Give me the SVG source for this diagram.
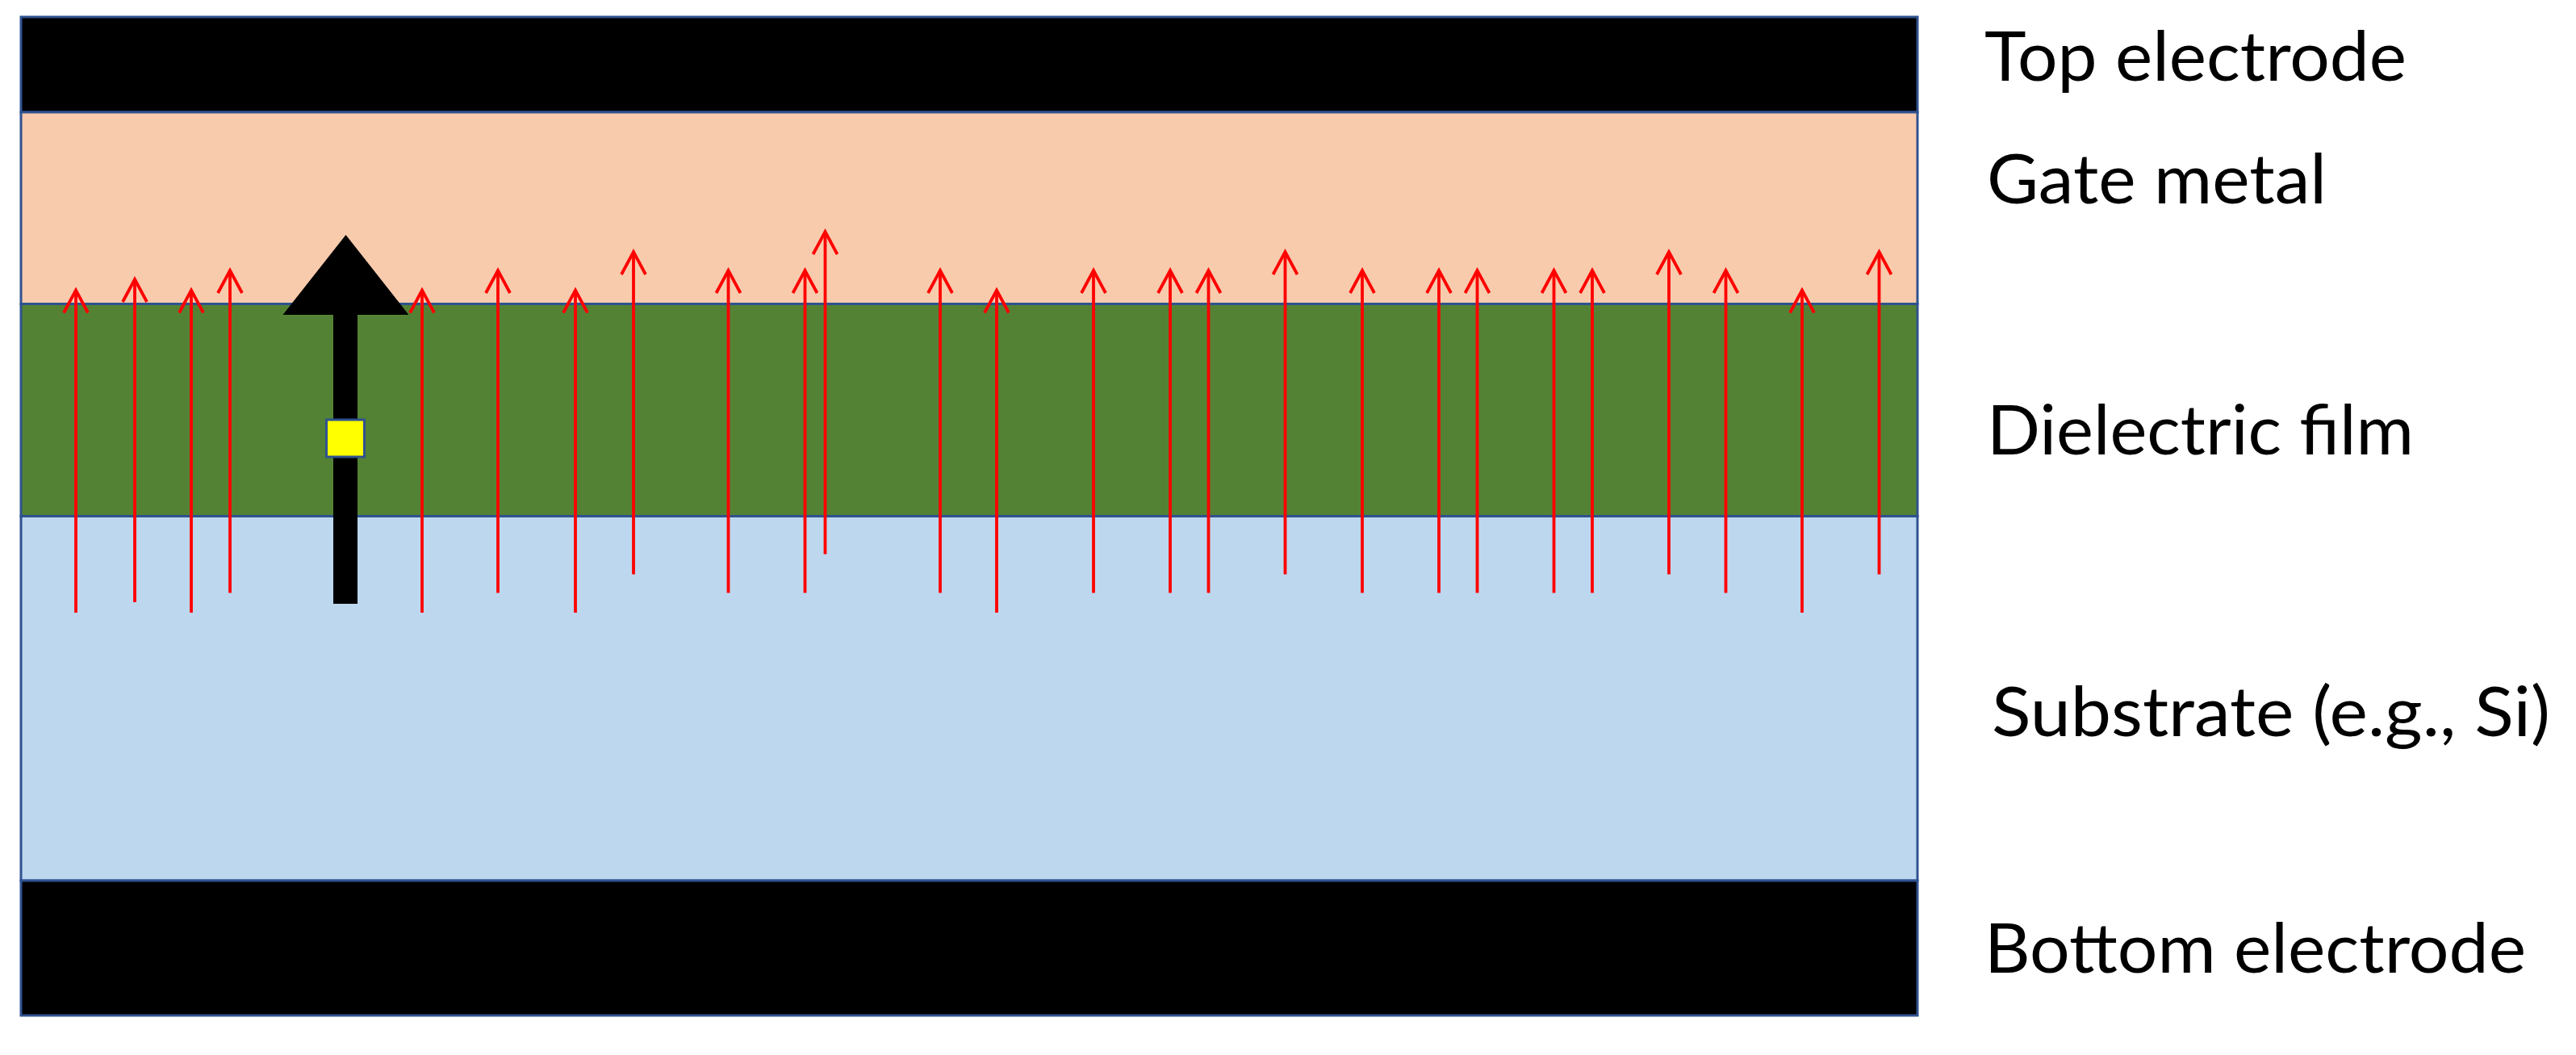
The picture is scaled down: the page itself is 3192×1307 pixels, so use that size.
<svg xmlns="http://www.w3.org/2000/svg" width="3192" height="1307" viewBox="0 0 3192 1307">
<style>
.layer{stroke:#2F528F;stroke-width:3}
.label{font-family:"Lato","Open Sans","Liberation Sans",sans-serif;font-size:85px;fill:#000}
.flux{stroke:#FF0000;stroke-width:3.8;fill:none;marker-end:url(#open)}
</style>
<defs>
<marker id="open" markerUnits="userSpaceOnUse" markerWidth="40" markerHeight="40" refX="0" refY="0" orient="auto" overflow="visible">
<path d="M-28,-15 L0,0 L-28,15" fill="none" stroke="#FF0000" stroke-width="3.8"/>
</marker>
</defs>
<rect width="3192" height="1307" fill="#FFFFFF"/>
<g id="top-electrode"><rect class="layer" x="26" y="21" width="2350" height="118" fill="#000000"/><text class="label" x="2459" y="100" textLength="523" lengthAdjust="spacingAndGlyphs">Top electrode</text></g>
<g id="gate-metal"><rect class="layer" x="26" y="139" width="2350" height="237.500" fill="#F8CBAD"/><text class="label" x="2462" y="252" textLength="421" lengthAdjust="spacingAndGlyphs">Gate metal</text></g>
<g id="dielectric-film"><rect class="layer" x="26" y="376.500" width="2350" height="263" fill="#548235"/><text class="label" x="2462" y="563" textLength="529" lengthAdjust="spacingAndGlyphs">Dielectric film</text></g>
<g id="substrate"><rect class="layer" x="26" y="639.500" width="2350" height="451.500" fill="#BDD7EE"/><text class="label" x="2468" y="912" textLength="692" lengthAdjust="spacingAndGlyphs">Substrate (e.g., Si)</text></g>
<g id="bottom-electrode"><rect class="layer" x="26" y="1091" width="2350" height="167" fill="#000000"/><text class="label" x="2459" y="1205" textLength="671" lengthAdjust="spacingAndGlyphs">Bottom electrode</text></g>
<g id="big-arrow"><polygon points="428.500,291 506.500,390 443,390 443,748 413,748 413,390 350.500,390" fill="#000000"/></g>
<g id="dipole"><rect x="404.500" y="520" width="47" height="46" fill="#FFFF00" stroke="#2F528F" stroke-width="3"/></g>
<g id="connectors">
<line class="flux" x1="94" y1="759" x2="94" y2="359.500"/>
<line class="flux" x1="167" y1="746" x2="167" y2="346"/>
<line class="flux" x1="237" y1="759" x2="237" y2="359.500"/>
<line class="flux" x1="285" y1="734.500" x2="285" y2="335"/>
<line class="flux" x1="523" y1="759" x2="523" y2="359.500"/>
<line class="flux" x1="617" y1="734.500" x2="617" y2="335"/>
<line class="flux" x1="713" y1="759" x2="713" y2="359.500"/>
<line class="flux" x1="785" y1="711.500" x2="785" y2="312"/>
<line class="flux" x1="902.500" y1="734.500" x2="902.500" y2="335"/>
<line class="flux" x1="997.500" y1="734.500" x2="997.500" y2="335"/>
<line class="flux" x1="1022.500" y1="686.500" x2="1022.500" y2="287"/>
<line class="flux" x1="1165" y1="734.500" x2="1165" y2="335"/>
<line class="flux" x1="1235" y1="759" x2="1235" y2="359.500"/>
<line class="flux" x1="1355" y1="734.500" x2="1355" y2="335"/>
<line class="flux" x1="1450" y1="734.500" x2="1450" y2="335"/>
<line class="flux" x1="1497.500" y1="734.500" x2="1497.500" y2="335"/>
<line class="flux" x1="1592.500" y1="711.500" x2="1592.500" y2="312"/>
<line class="flux" x1="1688" y1="734.500" x2="1688" y2="335"/>
<line class="flux" x1="1783" y1="734.500" x2="1783" y2="335"/>
<line class="flux" x1="1830.500" y1="734.500" x2="1830.500" y2="335"/>
<line class="flux" x1="1925.500" y1="734.500" x2="1925.500" y2="335"/>
<line class="flux" x1="1973" y1="734.500" x2="1973" y2="335"/>
<line class="flux" x1="2068" y1="711.500" x2="2068" y2="312"/>
<line class="flux" x1="2138.500" y1="734.500" x2="2138.500" y2="335"/>
<line class="flux" x1="2233" y1="759" x2="2233" y2="359.500"/>
<line class="flux" x1="2328.500" y1="711.500" x2="2328.500" y2="312"/>
</g>
</svg>
